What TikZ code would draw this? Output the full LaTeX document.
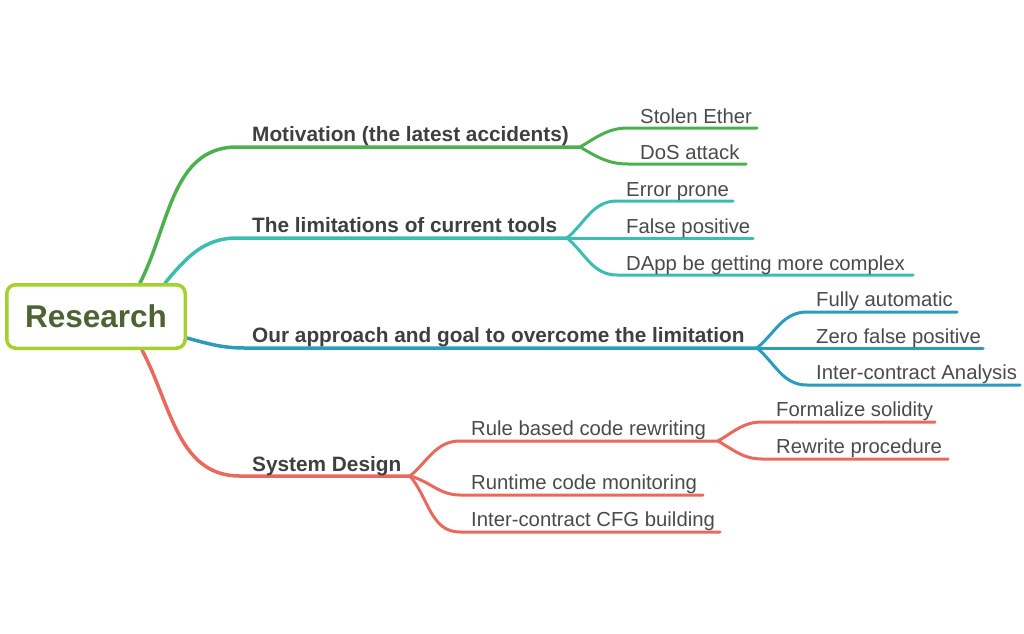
\documentclass[tikz,border=0pt]{standalone}
\usepackage{fontspec}
\setmainfont{Liberation Sans}
\usetikzlibrary{backgrounds}
\definecolor{cgreen}{HTML}{4DB04F}
\definecolor{cteal}{HTML}{3CBDB1}
\definecolor{cblue}{HTML}{2B9CBB}
\definecolor{cred}{HTML}{E9695C}
\definecolor{clime}{HTML}{A6D02E}
\definecolor{colive}{HTML}{4D6334}
\definecolor{ctext}{HTML}{3F3F3F}
\definecolor{cleaf}{HTML}{4A4A4A}
\begin{document}
\begin{tikzpicture}[x=1pt,y=-1pt,
  branch/.style={line width=3.5pt,line cap=round},
  twig/.style={line width=3pt,line cap=round},
  mainlabel/.style={anchor=base west,inner sep=0pt,text=ctext,font=\bfseries\fontsize{20.8}{24}\selectfont},
  leaflabel/.style={anchor=base west,inner sep=0pt,text=cleaf,font=\fontsize{20.3}{24}\selectfont},
  rootbox/.style={draw=clime,line width=3.5pt,rounded corners=9pt,fill=white,
    minimum width=178.5pt,minimum height=63.5pt,inner sep=0pt,text=colive,
    font=\bfseries\fontsize{31.5}{36}\selectfont}]
\useasboundingbox (0,0) rectangle (1024,633);

% root
\node[rootbox] (root) at (96,316.5) {Research};

% main labels
\node[mainlabel] (mot) at (252,141) {Motivation (the latest accidents)};
\node[mainlabel] (lim) at (252,232) {The limitations of current tools};
\node[mainlabel] (app) at (252,342) {Our approach and goal to overcome the limitation};
\node[mainlabel] (sys) at (252,471) {System Design};

% leaf labels
\node[leaflabel] (se) at (640,123) {Stolen Ether};
\node[leaflabel] (dos) at (640,159) {DoS attack};
\node[leaflabel] (ep) at (626,196) {Error prone};
\node[leaflabel] (fp) at (626,233) {False positive};
\node[leaflabel] (dapp) at (626,270) {DApp be getting more complex};
\node[leaflabel] (fa) at (816,306) {Fully automatic};
\node[leaflabel] (zf) at (816,343) {Zero false positive};
\node[leaflabel] (ica) at (816,379) {Inter-contract Analysis};
\node[leaflabel] (rb) at (471,435) {Rule based code rewriting};
\node[leaflabel] (rt) at (471,489) {Runtime code monitoring};
\node[leaflabel] (cfg) at (471,526) {Inter-contract CFG building};
\node[leaflabel] (fs) at (776,416) {Formalize solidity};
\node[leaflabel] (rw) at (776,453) {Rewrite procedure};

% coordinates
\coordinate (g0) at ([xshift=44pt]root.north);
\coordinate (g1) at (237,147);
\coordinate (gf) at (580,147);
\coordinate (t0) at ([xshift=69pt]root.north);
\coordinate (t1) at (237,238);
\coordinate (tf) at (567,238);
\coordinate (b0) at ([yshift=-21.5pt]root.east);
\coordinate (b1) at (245,348);
\coordinate (bf) at (757,348);
\coordinate (r0) at ([xshift=46pt]root.south);
\coordinate (r1) at (240,476);
\coordinate (rf) at (410,476);
\coordinate (rbf) at (718,441);

\begin{scope}[on background layer]
% green
\draw[branch,cgreen] (g0) to[out=63,in=180] (g1) -- (gf);
\draw[twig,cgreen] (gf) to[out=30,in=180] (628,128) -- (757,128);
\draw[twig,cgreen] (gf) to[out=-30,in=180] (628,164) -- (746,164);
% teal
\draw[branch,cteal] (t0) to[out=50,in=180] (t1) -- (tf);
\draw[twig,cteal] (tf) to[out=40,in=180] (617,201) -- (733,201);
\draw[twig,cteal] (tf) -- (753,238);
\draw[twig,cteal] (tf) to[out=-40,in=180] (617,275) -- (913,275);
% blue
\draw[branch,cblue] (b0) to[out=-15,in=180] (b1) -- (bf);
\draw[twig,cblue] (bf) to[out=40,in=180] (807,312) -- (957,312);
\draw[twig,cblue] (bf) -- (983,348);
\draw[twig,cblue] (bf) to[out=-40,in=180] (807,385) -- (1020,385);
% red
\draw[branch,cred] (r0) to[out=-62,in=180] (r1) -- (rf);
\draw[twig,cred] (rf) to[out=40,in=180] (460,441) -- (rbf);
\draw[twig,cred] (rf) to[out=-15,in=180] (460,495) -- (703,495);
\draw[twig,cred] (rf) to[out=-50,in=180] (460,532) -- (720,532);
\draw[twig,cred] (rbf) to[out=30,in=180] (762,422) -- (935,422);
\draw[twig,cred] (rbf) to[out=-30,in=180] (762,459) -- (948,459);
\end{scope}
\end{tikzpicture}
\end{document}
